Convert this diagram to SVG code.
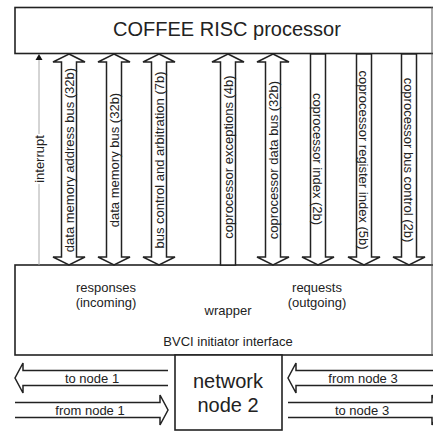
<svg xmlns="http://www.w3.org/2000/svg" width="433" height="432" viewBox="0 0 433 432">
<defs>
<style>
.box{fill:#fff;stroke:#222;stroke-width:1.6}
.arr{fill:#fff;stroke:#222;stroke-width:1.5;stroke-linejoin:miter}
.t{font-family:"Liberation Sans",Arial,sans-serif;font-size:13px;fill:#222;text-anchor:middle}
.big{font-family:"Liberation Sans",Arial,sans-serif;font-size:20px;fill:#222;text-anchor:middle}
</style>
</defs>
<rect width="433" height="432" fill="#fff"/>
<g id="processor">
<rect class="box" x="15" y="7.5" width="440" height="46"/>
<text class="big" x="227" y="36">COFFEE RISC processor</text>
</g>
<g id="wrapper">
<rect class="box" x="15" y="265" width="440" height="90"/>
<text class="t" x="106" y="292">responses</text>
<text class="t" x="106" y="307">(incoming)</text>
<text class="t" x="228" y="315">wrapper</text>
<text class="t" x="317" y="292">requests</text>
<text class="t" x="317" y="307">(outgoing)</text>
<text class="t" x="228" y="346">BVCI initiator interface</text>
</g>
<g id="network-node">
<rect class="box" x="175" y="355" width="107" height="75"/>
<text class="big" x="228" y="388">network</text>
<text class="big" x="228" y="412">node 2</text>
</g>
<line x1="432" y1="7" x2="432" y2="355" stroke="#555" stroke-width="1"/>
<g id="connectors">
<g id="interrupt">
<line x1="39" y1="59" x2="39" y2="265" stroke="#aaa" stroke-width="1"/>
<path d="M39,54 L42.5,60 L35.5,60 Z" fill="#111"/>
<rect x="33" y="134" width="12" height="50" fill="#fff"/>
<text class="t" transform="translate(39,159) rotate(-90)" dy="0.35em">interrupt</text>
</g>
<g id="c1">
<path class="arr" d="M69,54 L85,62 L76.5,62 L76.5,257 L85,257 L69,265 L53,257 L61.5,257 L61.5,62 L53,62 Z"/>
<text class="t" transform="translate(69,160) rotate(-90)" dy="0.35em">data memory address bus (32b)</text>
</g>
<g id="c2">
<path class="arr" d="M114,54 L130,62 L121.5,62 L121.5,257 L130,257 L114,265 L98,257 L106.5,257 L106.5,62 L98,62 Z"/>
<text class="t" transform="translate(114,160) rotate(-90)" dy="0.35em">data memory bus (32b)</text>
</g>
<g id="c3">
<path class="arr" d="M159,54 L175,62 L166.5,62 L166.5,257 L175,257 L159,265 L143,257 L151.5,257 L151.5,62 L143,62 Z"/>
<text class="t" transform="translate(159,160) rotate(-90)" dy="0.35em">bus control and arbitration (7b)</text>
</g>
<g id="c4">
<path class="arr" d="M228,54 L244,62 L235.5,62 L235.5,265 L220.5,265 L220.5,62 L212,62 Z"/>
<text class="t" transform="translate(228,157) rotate(-90)" dy="0.35em">coprocessor exceptions (4b)</text>
</g>
<g id="c5">
<path class="arr" d="M273,54 L289,62 L280.5,62 L280.5,257 L289,257 L273,265 L257,257 L265.5,257 L265.5,62 L257,62 Z"/>
<text class="t" transform="translate(273,160) rotate(-90)" dy="0.35em">coprocessor data bus (32b)</text>
</g>
<g id="c6">
<path class="arr" d="M310.5,54 L325.5,54 L325.5,257 L334,257 L318,265 L302,257 L310.5,257 Z"/>
<text class="t" transform="translate(318,159) rotate(90)" dy="0.35em">coprocessor index (2b)</text>
</g>
<g id="c7">
<path class="arr" d="M356.5,54 L371.5,54 L371.5,257 L380,257 L364,265 L348,257 L356.5,257 Z"/>
<text class="t" transform="translate(364,160) rotate(90)" dy="0.35em">coprocessor register index (5b)</text>
</g>
<g id="c8">
<path class="arr" d="M401.5,54 L416.5,54 L416.5,257 L425,257 L409,265 L393,257 L401.5,257 Z"/>
<text class="t" transform="translate(409,160) rotate(90)" dy="0.35em">coprocessor bus control (2b)</text>
</g>
<g id="to-node1">
<path class="arr" d="M168,370.5 L23,370.5 L23,363 L15,378 L23,393 L23,385.5 L168,385.5"/>
<text class="t" x="92" y="383">to node 1</text>
</g>
<g id="from-node1">
<path class="arr" d="M15,402.5 L160,402.5 L160,395 L168,410 L160,425 L160,417.5 L15,417.5"/>
<text class="t" x="90" y="415">from node 1</text>
</g>
<g id="from-node3">
<path class="arr" d="M440,370.5 L296,370.5 L296,363 L288,378 L296,393 L296,385.5 L440,385.5"/>
<text class="t" x="363" y="383">from node 3</text>
</g>
<g id="to-node3">
<path class="arr" d="M288,402.5 L432,402.5 L432,395 L440,410 L432,425 L432,417.5 L288,417.5"/>
<text class="t" x="362" y="415">to node 3</text>
</g>
</g>
</svg>
